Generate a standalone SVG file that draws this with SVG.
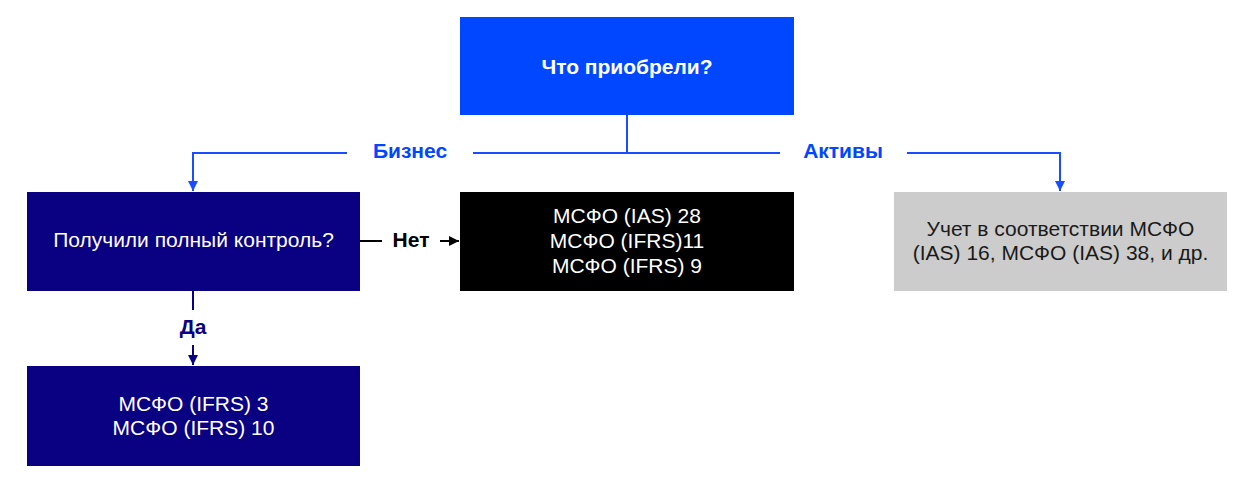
<svg xmlns="http://www.w3.org/2000/svg" width="1250" height="482" viewBox="0 0 1250 482">
<defs>
<style>
.t{font-family:"Liberation Sans",Arial,sans-serif;font-size:21px;text-anchor:middle;dominant-baseline:central}
.w{fill:#ffffff}
.b{font-weight:bold}
.blue{fill:#0047FF}
.lb{stroke:#1a4dff;stroke-width:2;fill:none}
.lk{stroke:#000000;stroke-width:2;fill:none}
.ln{stroke:#0a0082;stroke-width:2;fill:none}
</style>
<marker id="ab" viewBox="0 0 10 10" refX="10" refY="5" markerWidth="5" markerHeight="5" orient="auto"><path d="M0,0L10,5L0,10z" fill="#1a4dff"/></marker>
<marker id="ak" viewBox="0 0 10 10" refX="10" refY="5" markerWidth="5" markerHeight="5" orient="auto"><path d="M0,0L10,5L0,10z" fill="#000"/></marker>
<marker id="an" viewBox="0 0 10 10" refX="10" refY="5" markerWidth="5" markerHeight="5" orient="auto"><path d="M0,0L10,5L0,10z" fill="#0a0082"/></marker>
</defs>
<rect width="1250" height="482" fill="#ffffff"/>
<g id="connectors">
<path class="lb" d="M627,115V153"/>
<path class="lb" d="M347,153H193V191" marker-end="url(#ab)"/>
<path class="lb" d="M473,153H780"/>
<path class="lb" d="M907,153H1060V191" marker-end="url(#ab)"/>
<text class="t b blue" x="410" y="150">Бизнес</text>
<text class="t b blue" x="843" y="150">Активы</text>
<path class="lk" d="M360,241H382"/>
<path class="lk" d="M440,241H459" marker-end="url(#ak)"/>
<text class="t b" x="411" y="239">Нет</text>
<path class="ln" d="M193,291V310"/>
<path class="ln" d="M193,345V365" marker-end="url(#an)"/>
<text class="t b" x="193" y="326" fill="#0a0082">Да</text>
</g>
<g id="n-top">
<rect x="460" y="17" width="334" height="98" fill="#0047FF"/>
<text class="t b w" x="627" y="66">Что приобрели?</text>
</g>
<g id="n-control">
<rect x="27" y="192" width="333" height="99" fill="#0a0082"/>
<text class="t w" x="193.5" y="239">Получили полный контроль?</text>
</g>
<g id="n-ias28">
<rect x="460" y="192" width="334" height="99" fill="#000000"/>
<text class="t w" x="627" y="215">МСФО (IAS) 28</text>
<text class="t w" x="627" y="240">МСФО (IFRS)11</text>
<text class="t w" x="627" y="265">МСФО (IFRS) 9</text>
</g>
<g id="n-assets">
<rect x="894" y="192" width="333" height="99" fill="#cccccc"/>
<text class="t" x="1060.5" y="228" fill="#1a1a1a">Учет в соответствии МСФО</text>
<text class="t" x="1060.5" y="252" fill="#1a1a1a">(IAS) 16, МСФО (IAS) 38, и др.</text>
</g>
<g id="n-ifrs3">
<rect x="27" y="366" width="333" height="100" fill="#0a0082"/>
<text class="t w" x="193.5" y="403">МСФО (IFRS) 3</text>
<text class="t w" x="193.5" y="427">МСФО (IFRS) 10</text>
</g>
</svg>
